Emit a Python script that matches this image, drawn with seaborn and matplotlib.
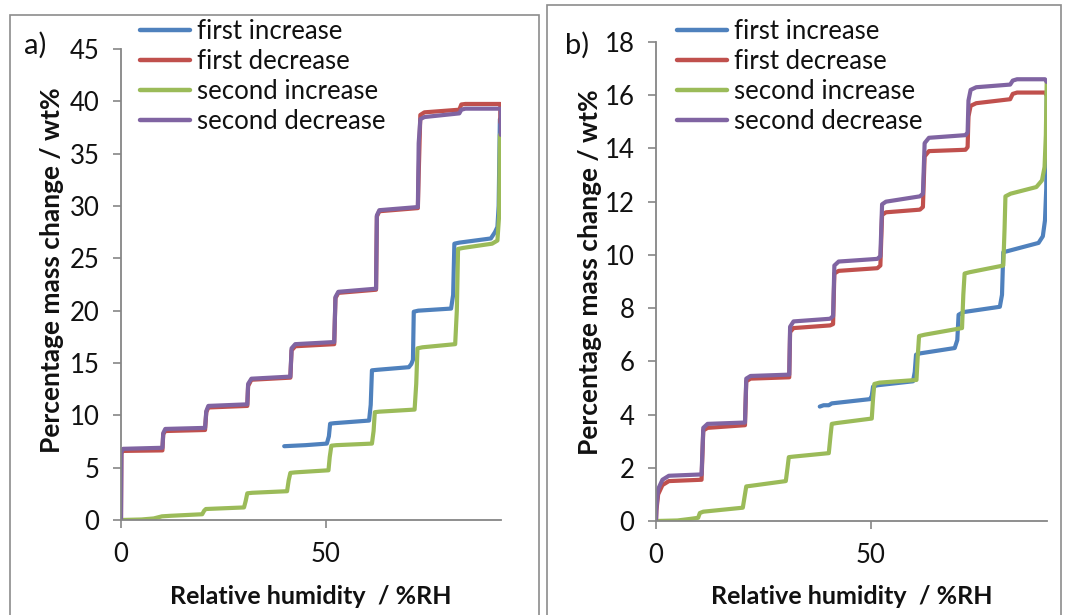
import matplotlib
matplotlib.use("Agg")
import matplotlib.pyplot as plt
import seaborn as sns
import pandas as pd
from matplotlib.patches import Rectangle
from matplotlib.lines import Line2D

# ---------------- data ----------------
series_names = ["first increase", "first decrease", "second increase", "second decrease"]
series_colors = ["#4F81BD", "#C0504D", "#9BBB59", "#8064A2"]

# panel a
a_inc1_x = [39.8, 45, 50.2, 50.7, 51.0, 52, 60.5, 60.9, 61.2, 62.5, 70.2, 70.8, 71.2, 71.4, 72.5, 80.5, 81.0, 81.3, 82.5, 90.2, 91.2, 91.8, 92.1, 92.4]
a_inc1_y = [7.05, 7.15, 7.3, 8.0, 9.2, 9.25, 9.5, 11.0, 14.3, 14.35, 14.6, 14.9, 15.3, 19.9, 20.0, 20.2, 21.5, 26.4, 26.5, 26.9, 27.5, 28.0, 30.0, 38.3]
a_dec1_x = [92.5, 92.5, 84, 83.0, 82.5, 74, 73.0, 72.6, 72.4, 63.0, 62.4, 62.2, 53.0, 52.3, 52.0, 42.5, 41.6, 41.3, 31.8, 31.0, 30.8, 21.3, 20.8, 20.5, 10.8, 10.3, 10.1, 0.5, 0.1, 0.0]
a_dec1_y = [38.0, 39.75, 39.75, 39.7, 39.2, 38.95, 38.7, 33.0, 29.8, 29.5, 29.0, 22.0, 21.7, 21.2, 16.8, 16.6, 16.2, 13.6, 13.4, 12.8, 10.9, 10.75, 10.3, 8.6, 8.5, 8.2, 6.65, 6.6, 6.4, 0.0]
a_inc2_x = [0, 5, 8, 10, 12, 19.8, 20.3, 20.7, 30.0, 30.4, 30.8, 32, 40.5, 40.9, 41.3, 42.5, 50.6, 50.9, 51.3, 52.5, 61.2, 61.6, 61.9, 63, 71.6, 72.0, 72.3, 73.5, 81.5, 81.9, 82.2, 83.5, 90.5, 91.8, 92.2, 92.4]
a_inc2_y = [0.0, 0.05, 0.15, 0.35, 0.4, 0.55, 0.9, 1.05, 1.2, 1.8, 2.55, 2.6, 2.75, 3.8, 4.5, 4.55, 4.75, 6.0, 7.1, 7.15, 7.3, 8.5, 10.3, 10.35, 10.55, 13.0, 16.4, 16.5, 16.8, 20.0, 25.9, 26.0, 26.4, 26.7, 29.0, 36.8]
a_dec2_x = [92.6, 92.6, 84, 83.0, 82.5, 74, 73.0, 72.6, 72.4, 63.0, 62.4, 62.2, 53.0, 52.3, 52.0, 42.5, 41.6, 41.3, 31.8, 31.0, 30.8, 21.3, 20.8, 20.5, 10.8, 10.3, 10.1, 0.5, 0.1, 0.0]
a_dec2_y = [36.8, 39.3, 39.3, 39.2, 38.85, 38.5, 38.3, 36.0, 29.9, 29.6, 29.1, 22.1, 21.8, 21.3, 17.0, 16.8, 16.4, 13.7, 13.5, 13.0, 11.05, 10.9, 10.4, 8.8, 8.7, 8.3, 6.9, 6.8, 6.5, 0.0]

# panel b
b_inc1_x = [38.1, 39.0, 40.2, 40.9, 49.8, 50.2, 50.5, 51.5, 59.8, 60.2, 60.5, 61.5, 69.5, 70.1, 70.4, 71.5, 80.0, 80.5, 80.8, 82.0, 89.0, 90.0, 90.5, 90.8, 90.9]
b_inc1_y = [4.3, 4.35, 4.35, 4.42, 4.58, 4.7, 5.05, 5.1, 5.25, 5.6, 6.25, 6.3, 6.5, 6.8, 7.75, 7.85, 8.05, 8.5, 10.1, 10.15, 10.45, 10.7, 11.3, 12.5, 16.0]
b_dec1_x = [90.9, 90.5, 84, 83.0, 82.4, 74.5, 73.2, 72.7, 72.5, 72.0, 63.5, 62.5, 62.1, 61.4, 53.5, 52.6, 52.2, 51.5, 42.5, 41.5, 41.2, 40.5, 32.0, 31.2, 31.0, 22.0, 21.0, 20.7, 12.0, 11.0, 10.6, 3.0, 1.5, 0.5, 0.1, 0.0]
b_dec1_y = [16.0, 16.1, 16.1, 16.05, 15.85, 15.7, 15.6, 15.2, 14.05, 13.95, 13.9, 13.7, 11.8, 11.7, 11.6, 11.5, 9.6, 9.5, 9.4, 9.3, 7.4, 7.35, 7.25, 7.1, 5.4, 5.35, 5.25, 3.6, 3.5, 3.4, 1.55, 1.5, 1.35, 1.0, 0.4, 0.0]
b_inc2_x = [0, 5, 8, 9.8, 10.2, 11, 20.2, 20.6, 21, 22, 30.2, 30.6, 30.9, 32, 40.2, 40.6, 40.9, 42, 50.2, 50.5, 50.8, 52, 60.6, 60.9, 61.2, 62.5, 71.2, 71.5, 71.8, 73, 80.8, 81.1, 81.3, 82.5, 88.5, 89.8, 90.4, 90.7, 90.9]
b_inc2_y = [0.0, 0.02, 0.08, 0.12, 0.3, 0.35, 0.5, 0.9, 1.3, 1.32, 1.5, 2.0, 2.4, 2.42, 2.55, 3.2, 3.65, 3.68, 3.85, 4.6, 5.15, 5.2, 5.3, 6.2, 6.95, 7.0, 7.25, 8.5, 9.3, 9.35, 9.6, 11.0, 12.2, 12.3, 12.55, 12.8, 13.3, 14.5, 16.5]
b_dec2_x = [90.9, 90.5, 84, 83.0, 82.4, 74.5, 73.2, 72.7, 72.5, 72.0, 63.5, 62.5, 62.1, 61.4, 53.5, 52.6, 52.2, 51.5, 42.5, 41.5, 41.2, 40.5, 32.0, 31.2, 31.0, 22.0, 21.0, 20.7, 12.0, 11.0, 10.6, 3.0, 1.5, 0.5, 0.1, 0.0]
b_dec2_y = [16.5, 16.6, 16.6, 16.55, 16.4, 16.3, 16.2, 15.8, 14.6, 14.5, 14.4, 14.2, 12.3, 12.2, 12.0, 11.9, 9.95, 9.85, 9.75, 9.6, 7.7, 7.6, 7.5, 7.3, 5.5, 5.45, 5.35, 3.7, 3.65, 3.5, 1.75, 1.7, 1.55, 1.2, 0.5, 0.0]

a_ticks_y = [0, 5, 10, 15, 20, 25, 30, 35, 40, 45]
b_ticks_y = [0, 2, 4, 6, 8, 10, 12, 14, 16, 18]
ticks_x = [0, 50]
x_label = "Relative humidity  / %RH"
y_label = "Percentage mass change / wt%"
panel_tags = ["a)", "b)"]


def make_df(xs, ys):
    rows = []
    for name, x, y in zip(series_names, xs, ys):
        for i, (xi, yi) in enumerate(zip(x, y)):
            rows.append({"rh": xi, "mass": yi, "series": name, "order": i})
    return pd.DataFrame(rows)


df_a = make_df([a_inc1_x, a_dec1_x, a_inc2_x, a_dec2_x], [a_inc1_y, a_dec1_y, a_inc2_y, a_dec2_y])
df_b = make_df([b_inc1_x, b_dec1_x, b_inc2_x, b_dec2_x], [b_inc1_y, b_dec1_y, b_inc2_y, b_dec2_y])

# ---------------- style ----------------
sns.set_theme(style="white")
plt.rcParams["font.family"] = ["Lato", "DejaVu Sans"]

W, H = 1065, 615
fig = plt.figure(figsize=(W / 100, H / 100), dpi=100)

# panel frames
gray = "#8c8c8c"
fig.patches.append(Rectangle((10 / W, -0.02), (539 - 10) / W, 0.02 + (H - 15) / H,
                             transform=fig.transFigure, fill=False, edgecolor=gray, lw=1.2))
fig.patches.append(Rectangle((547 / W, -0.02), (1061 - 547) / W, 0.02 + (H - 5) / H,
                             transform=fig.transFigure, fill=False, edgecolor=gray, lw=1.2))

ax_a = fig.add_axes([121 / W, (H - 520) / H, (500.7 - 121) / W, (520 - 49) / H])
ax_b = fig.add_axes([656 / W, (H - 521) / H, (1046.7 - 656) / W, (521 - 42) / H])

# (axis, data, xlim, ylim, yticks, ylabel centre px (x, y), xlabel centre y px, legend x px)
cfg = [
    (ax_a, df_a, (0, 92.6), (0, 45), a_ticks_y, (52, 270), 597, 140),
    (ax_b, df_b, (0, 90.9), (0, 18), b_ticks_y, (590, 272), 597, 677),
]

axis_col = "#868686"
txt_col = "#111111"
for ax, df, xl, yl, yt, ylab_px, xlab_py, leg_x in cfg:
    sns.lineplot(data=df, x="rh", y="mass", hue="series", hue_order=series_names,
                 palette=series_colors, sort=False, estimator=None, units="series",
                 lw=3.0, ax=ax, legend=False)
    ax.set_xlim(*xl)
    ax.set_ylim(*yl)
    ax.set_xticks(ticks_x)
    ax.set_yticks(yt)
    for s in ["top", "right"]:
        ax.spines[s].set_visible(False)
    for s in ["left", "bottom"]:
        ax.spines[s].set_color(axis_col)
        ax.spines[s].set_linewidth(1.3)
    ax.tick_params(axis="both", which="major", direction="out", length=5.5, width=1.2,
                   color=axis_col, labelsize=18.5, labelcolor=txt_col, left=True, bottom=True)
    ax.tick_params(axis="y", pad=10)
    ax.tick_params(axis="x", pad=10)
    ax.grid(False)
    ax.set_facecolor("none")

    ax.set_xlabel(x_label, fontsize=18, fontweight="bold", color=txt_col, va="center")
    ax.set_ylabel(y_label, fontsize=19, fontweight="bold", color=txt_col, va="center")
    inv = ax.transAxes.inverted()
    xlx, xly = inv.transform(fig.transFigure.transform((0.5, 1 - xlab_py / H)))
    ax.xaxis.set_label_coords(0.5, xly)
    ylx, yly = inv.transform(fig.transFigure.transform((ylab_px[0] / W, 1 - ylab_px[1] / H)))
    ax.yaxis.set_label_coords(ylx, yly)

    handles = [Line2D([], [], color=c, lw=3.2) for c in series_colors]
    fig.legend(handles, series_names, loc="upper left",
               bbox_to_anchor=(leg_x / W, (H - 19) / H), frameon=False,
               fontsize=18.5, handlelength=1.95, handletextpad=0.27, labelspacing=0.2,
               borderpad=0, borderaxespad=0, labelcolor=txt_col)

fig.text(35 / W, 1 - 45 / H, panel_tags[0], fontsize=21, ha="center", va="center", color=txt_col)
fig.text(577 / W, 1 - 45 / H, panel_tags[1], fontsize=21, ha="center", va="center", color=txt_col)

fig.savefig("out.png", dpi=100)
